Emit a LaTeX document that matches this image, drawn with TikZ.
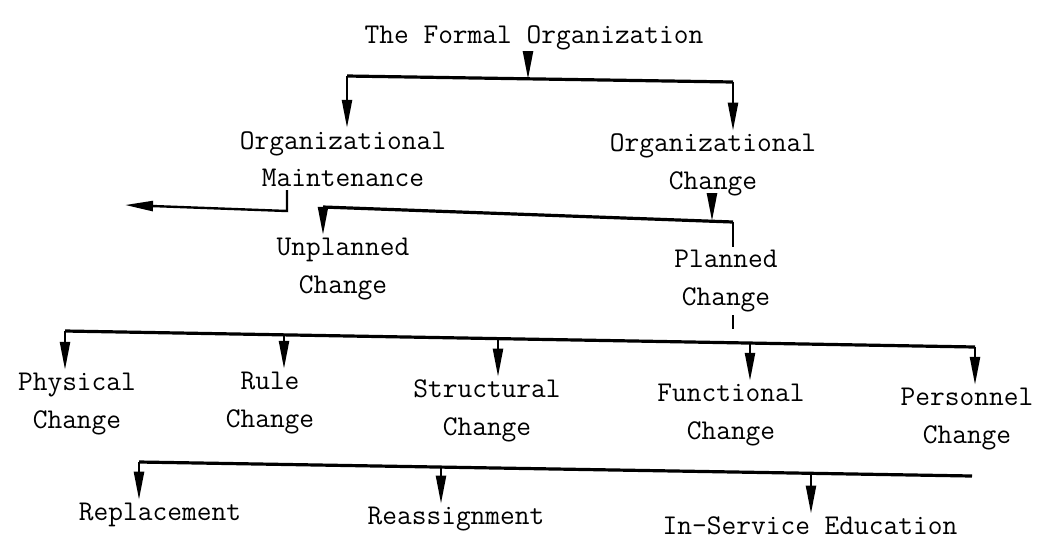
\documentclass[tikz,border=0pt]{standalone}
\usetikzlibrary{arrows.meta}

\begin{document}
\begin{tikzpicture}[x=0.5pt,y=-0.5pt,
  every node/.style={font=\ttfamily\fontsize{14.3}{18.8}\selectfont,align=center,inner sep=1.5pt},
  bar/.style={line width=1.6pt},
  stem/.style={line width=1.2pt},
  drop/.style={line width=1.2pt,-{Triangle[length=14pt,width=5pt]}}]

\useasboundingbox (0,0) rectangle (1055,548);

% top level
\node (fo) at (534,38) {The Formal Organization};
\coordinate (b1a) at (347,76);
\coordinate (b1m) at (528,79);
\coordinate (b1b) at (733,82);
\draw[bar] (b1a) -- (b1b);
\draw[drop] (b1m |- fo.south) -- (b1m);

\node (om) at (343,159) {Organizational\\Maintenance};
\node (oc) at (713,165) {Organizational\\Change};
\draw[drop] (b1a) -- (b1a |- om.north);
\draw[drop] (b1b) -- (b1b |- oc.north);

% maintenance goes off to the left
\coordinate (mt) at (287,211);
\coordinate (ml) at (125,205);
\draw[drop] (mt |- om.south) -- (mt) -- (ml);

% change: unplanned / planned
\coordinate (b2a) at (323,207);
\coordinate (b2m) at (712,221);
\coordinate (b2b) at (733,222);
\draw[bar] (b2a) -- (b2b);
\draw[drop] (b2m |- oc.south) -- (b2m);

\node (un) at (343,269) {Unplanned\\Change};
\node (pc) at (726,281) {Planned\\Change};
\draw[drop] (b2a) -- (b2a |- un.north);
\draw[stem] (b2b) -- (b2b |- pc.north);

% kinds of planned change
\coordinate (ps) at (733,329);
\draw[stem] (ps |- pc.south) -- (ps);

\coordinate (b3a) at (65,331);
\coordinate (b3b) at (975,347);
\coordinate (k2) at (284,335);
\coordinate (k3) at (498,339);
\coordinate (k4) at (750,343);
\draw[bar] (b3a) -- (b3b);

\node (ph) at (77,404) {Physical\\Change};
\node (ru) at (270,403) {Rule\\Change};
\node (st) at (487,411) {Structural\\Change};
\node (fu) at (731,415) {Functional\\Change};
\node (pe) at (967,419) {Personnel\\Change};
\draw[drop] (b3a) -- (b3a |- ph.north);
\draw[drop] (k2) -- (k2 |- ru.north);
\draw[drop] (k3) -- (k3 |- st.north);
\draw[drop] (k4) -- (k4 |- fu.north);
\draw[drop] (b3b) -- (b3b |- pe.north);

% personnel change
\coordinate (b4a) at (139,462);
\coordinate (b4b) at (972,476);
\coordinate (r2) at (441,467);
\coordinate (r3) at (811,473);
\draw[bar] (b4a) -- (b4b);

\node (rp) at (160,515) {Replacement};
\node (ra) at (456,519) {Reassignment};
\node (ed) at (810,526) {In-Service Education};
\draw[drop] (b4a) -- (b4a |- rp.north);
\draw[drop] (r2) -- (r2 |- ra.north);
\draw[drop] (r3) -- (r3 |- ed.north);

\end{tikzpicture}
\end{document}
